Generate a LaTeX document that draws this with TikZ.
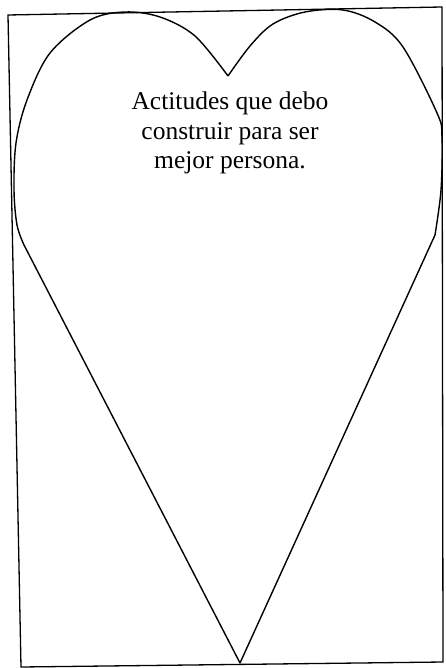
\documentclass[tikz,border=0pt]{standalone}
\usepackage{fontspec}
\setmainfont{Liberation Serif}
\begin{document}
\begin{tikzpicture}[x=1pt,y=-1pt,
  frame/.style={draw=black,line width=1.3pt},
  heartline/.style={draw=black,line width=1.4pt,line join=round},
  title/.style={align=center,font=\fontsize{25.5}{29.5}\selectfont,inner sep=0pt}]
\useasboundingbox (0,0) rectangle (445,668);
\fill[white] (0,0) rectangle (445,668);
% frame
\coordinate (tl) at (8,15);
\coordinate (tr) at (442,7);
\coordinate (br) at (443,662);
\coordinate (bl) at (21,667);
\draw[frame] (tl) -- (tr) -- (br) -- (bl) -- cycle;
% heart
\coordinate (notch) at (228,76);
\coordinate (tip) at (240,663);
\coordinate (lk) at (24,245);
\coordinate (rk) at (435,235);
\draw[heartline] plot[smooth,tension=0.55] coordinates {(228,76) (195,36) (160,17) (125,12) (90,20) (50,53) (27,100) (16,143) (14,190) (17,225) (24,245)}
  -- (tip) -- (rk)
  plot[smooth,tension=0.55] coordinates {(435,235) (441,190) (442,137) (437,113) (403,47) (375,22) (343,10) (305,12) (273,24) (250,46) (228,76)};
% text
\node[title] (txt) at (230,133) {Actitudes que debo\\construir para ser\\mejor persona.};
\end{tikzpicture}
\end{document}
